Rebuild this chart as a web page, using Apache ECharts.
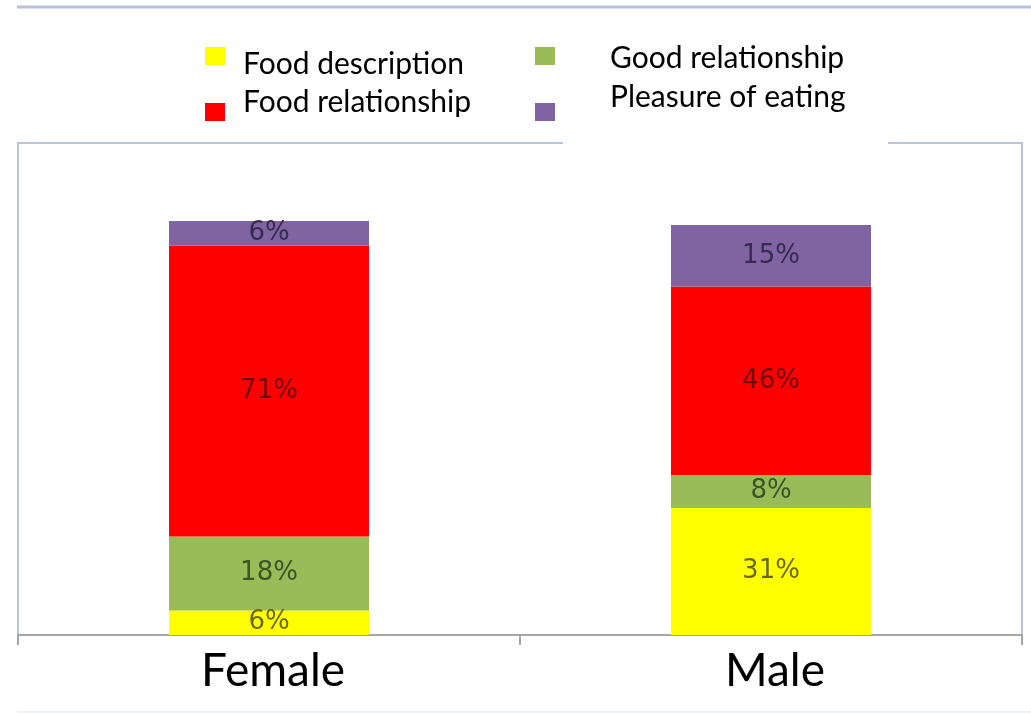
<!DOCTYPE html>
<html>
<head>
<meta charset="utf-8">
<script src="https://cdn.jsdelivr.net/npm/echarts@6/dist/echarts.min.js"></script>
<style>
  html, body { margin: 0; padding: 0; background: #ffffff; }
  #chart { width: 1031px; height: 714px; }
</style>
</head>
<body>
<div id="chart"></div>
<script>
// Share of each theme in the answers, by gender (percent)
const categories = ['Female', 'Male'];
const seriesNames = ['Food description', 'Good relationship', 'Food relationship', 'Pleasure of eating'];
const foodDescription = [6, 31];
const goodRelationship = [18, 8];
const foodRelationship = [71, 46];
const pleasureOfEating = [6, 15];

const colors = {
  yellow: '#ffff00',
  green: '#9bbb59',
  red: '#ff0000',
  purple: '#8064a2'
};

const labelFont = 'DejaVu Sans';
const textFont = 'Lato';

function segment(name, values, color, labelColor) {
  return {
    name: name,
    type: 'bar',
    stack: 'total',
    barWidth: 200,
    data: values,
    itemStyle: { color: color },
    label: {
      show: true,
      position: 'inside',
      formatter: '{c}%',
      fontFamily: labelFont,
      fontSize: 26,
      color: labelColor
    }
  };
}

// legend swatches; their captions are set as separate text blocks below
function legendSwatch(name, left, top) {
  return {
    data: [name],
    left: left,
    top: top,
    padding: 0,
    icon: 'rect',
    itemWidth: 20,
    itemHeight: 18,
    selectedMode: false,
    formatter: function () { return ''; }
  };
}

function caption(text, x, y) {
  return {
    type: 'text',
    x: x,
    y: y,
    z: 110,
    style: {
      text: text,
      fontFamily: textFont,
      fontSize: 30,
      fill: '#000000',
      align: 'left',
      verticalAlign: 'middle'
    }
  };
}

const chart = echarts.init(document.getElementById('chart'), null, { renderer: 'canvas' });

chart.setOption({
  backgroundColor: '#ffffff',
  animation: false,
  legend: [
    legendSwatch(seriesNames[0], 205, 47),
    legendSwatch(seriesNames[2], 205, 103),
    legendSwatch(seriesNames[1], 535, 47),
    legendSwatch(seriesNames[3], 535, 103)
  ],
  grid: {
    left: 18,
    right: 9,
    top: 143,
    bottom: 79,
    show: true,
    borderColor: '#b9c5db',
    borderWidth: 2,
    backgroundColor: '#ffffff'
  },
  xAxis: {
    type: 'category',
    data: categories,
    axisLine: { lineStyle: { color: '#a6a6a6', width: 2 } },
    axisTick: { show: true, length: 10, lineStyle: { color: '#a6a6a6', width: 2 } },
    axisLabel: {
      fontFamily: textFont,
      fontSize: 46,
      color: '#000000',
      margin: 13,
      padding: [0, 0, 0, 8]
    }
  },
  yAxis: {
    type: 'value',
    min: 0,
    max: 120,
    show: false,
    splitLine: { show: false }
  },
  series: [
    segment(seriesNames[0], foodDescription, colors.yellow, '#6b6a12'),
    segment(seriesNames[1], goodRelationship, colors.green, '#3b5526'),
    segment(seriesNames[2], foodRelationship, colors.red, '#700808'),
    segment(seriesNames[3], pleasureOfEating, colors.purple, '#352b52')
  ],
  graphic: [
    {
      type: 'line',
      shape: { x1: 17, y1: 7, x2: 1031, y2: 7 },
      style: { stroke: '#b4c0e2', lineWidth: 3 },
      z: 100
    },
    {
      type: 'line',
      shape: { x1: 17, y1: 712, x2: 1031, y2: 712 },
      style: { stroke: '#eef3fa', lineWidth: 2 },
      z: 100
    },
    {
      // white panel that interrupts the top of the frame
      type: 'rect',
      shape: { x: 563, y: 136, width: 325, height: 14 },
      style: { fill: '#ffffff' },
      z: 100
    },
    caption(seriesNames[0], 243, 64),
    caption(seriesNames[2], 243, 102),
    caption(seriesNames[1], 610, 58),
    caption(seriesNames[3], 610, 97)
  ]
});
</script>
</body>
</html>
